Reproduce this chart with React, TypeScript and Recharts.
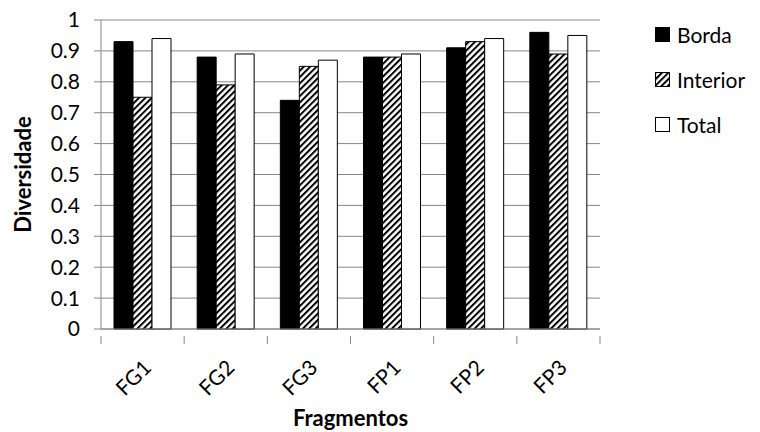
import React from "react";
import { BarChart, Bar, XAxis, YAxis, CartesianGrid } from "recharts";

const categories = ["FG1", "FG2", "FG3", "FP1", "FP2", "FP3"];
const borda = [0.93, 0.88, 0.74, 0.88, 0.91, 0.96];
const interior = [0.75, 0.79, 0.85, 0.88, 0.93, 0.89];
const total = [0.94, 0.89, 0.87, 0.89, 0.94, 0.95];
const yTicks = [0, 0.1, 0.2, 0.3, 0.4, 0.5, 0.6, 0.7, 0.8, 0.9, 1];

const data = categories.map((name, i) => ({
  name,
  borda: borda[i],
  interior: interior[i],
  total: total[i],
}));

const GRID = "#878787";
const FONT = "Lato, 'Open Sans', sans-serif";

const legendItems = [
  { label: "Borda", fill: "#000" },
  { label: "Interior", fill: "url(#hatch)" },
  { label: "Total", fill: "#fff" },
];

// label rotated like Excel, plus tick marks between categories
function CategoryTick(props: any) {
  const { x, y, payload, index, visibleTicksCount } = props;
  const half = payload.offset || 0;
  const tx = x + 10;
  const ty = y + 32;
  return (
    <g>
      <line x1={x - half} y1={y - 1} x2={x - half} y2={y + 7} stroke={GRID} />
      {index === visibleTicksCount - 1 && (
        <line x1={x + half} y1={y - 1} x2={x + half} y2={y + 7} stroke={GRID} />
      )}
      <text
        x={tx}
        y={ty}
        textAnchor="end"
        fontSize={21}
        fill="#000"
        transform={`rotate(-45, ${tx}, ${ty})`}
      >
        {payload.value}
      </text>
    </g>
  );
}

function LegendBox() {
  return (
    <div
      style={{
        position: "absolute",
        left: 655,
        top: 12,
        fontFamily: FONT,
        fontSize: 21,
        color: "#000",
      }}
    >
      {legendItems.map((item) => (
        <div
          key={item.label}
          style={{ display: "flex", alignItems: "center", height: 45 }}
        >
          <svg width={15} height={15} style={{ marginRight: 7 }}>
            <rect
              x={0.5}
              y={0.5}
              width={14}
              height={14}
              fill={item.fill}
              stroke="#000"
              strokeWidth={1}
            />
          </svg>
          <span>{item.label}</span>
        </div>
      ))}
    </div>
  );
}

export default function App() {
  return (
    <div
      style={{
        position: "absolute",
        left: 0,
        top: 0,
        width: 760,
        height: 432,
        background: "#fff",
        fontFamily: FONT,
      }}
    >
      <BarChart
        width={760}
        height={432}
        data={data}
        margin={{ top: 20, right: 160, bottom: 0, left: 0 }}
        barGap={0}
        barSize={19}
      >
        <defs>
          <pattern
            id="hatch"
            patternUnits="userSpaceOnUse"
            width={4.5}
            height={4.5}
            patternTransform="rotate(45)"
          >
            <rect width={4.5} height={4.5} fill="#fff" />
            <line x1={1} y1={0} x2={1} y2={4.5} stroke="#000" strokeWidth={2} />
          </pattern>
        </defs>
        <CartesianGrid vertical={false} stroke={GRID} strokeWidth={1} />
        <XAxis
          dataKey="name"
          height={103}
          axisLine={{ stroke: GRID }}
          tickLine={false}
          tick={<CategoryTick />}
          interval={0}
          label={{
            value: "Fragmentos",
            position: "insideBottom",
            offset: 6,
            fontSize: 22,
            fontWeight: "bold",
            fill: "#000",
          }}
        />
        <YAxis
          domain={[0, 1]}
          ticks={yTicks}
          width={101}
          tickSize={7}
          tickMargin={14}
          interval={0}
          axisLine={{ stroke: GRID }}
          tickLine={{ stroke: GRID }}
          tick={{ fontSize: 21, fill: "#000" }}
          label={{
            value: "Diversidade",
            angle: -90,
            position: "center",
            dx: -27,
            fontSize: 22,
            fontWeight: "bold",
            fill: "#000",
          }}
        />
        <Bar
          dataKey="borda"
          name="Borda"
          fill="#000"
          stroke="#000"
          strokeWidth={1}
          isAnimationActive={false}
        />
        <Bar
          dataKey="interior"
          name="Interior"
          fill="url(#hatch)"
          stroke="#000"
          strokeWidth={1}
          isAnimationActive={false}
        />
        <Bar
          dataKey="total"
          name="Total"
          fill="#fff"
          stroke="#000"
          strokeWidth={1}
          isAnimationActive={false}
        />
      </BarChart>
      <LegendBox />
    </div>
  );
}
